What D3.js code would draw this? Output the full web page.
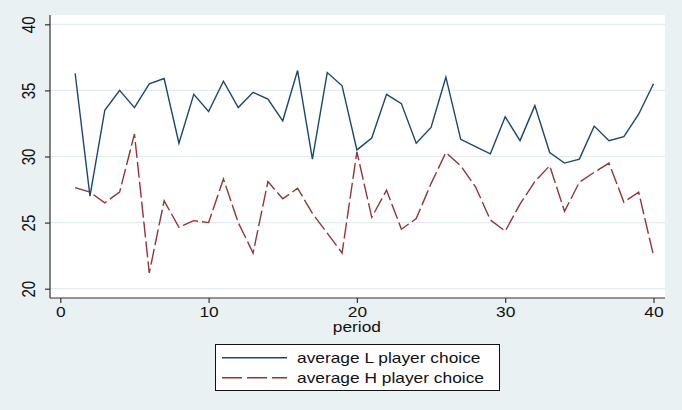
<!DOCTYPE html>
<html>
<head>
<meta charset="utf-8">
<script src="https://cdn.jsdelivr.net/npm/d3@7"></script>
<style>
  html, body { margin: 0; padding: 0; background: #eaf1f3; }
  svg { display: block; }
  text { font-family: "Liberation Sans", Arial, sans-serif; fill: #111; font-size: 14px; }
</style>
</head>
<body>
<svg id="chart" width="682" height="410"></svg>
<script>
// Periods 1..40
const periods = d3.range(1, 41);

// Average choice of L players per period
const avgL = [36.3, 27.0, 33.5, 35.0, 33.7, 35.5, 35.9, 31.0, 34.7, 33.4,
              35.7, 33.7, 34.85, 34.35, 32.7, 36.5, 29.8, 36.35, 35.35, 30.5,
              31.4, 34.7, 34.0, 31.0, 32.2, 36.0, 31.3, 30.75, 30.2, 33.0,
              31.2, 33.85, 30.3, 29.5, 29.8, 32.3, 31.2, 31.5, 33.2, 35.5];

// Average choice of H players per period
const avgH = [27.65, 27.3, 26.5, 27.3, 31.7, 21.2, 26.65, 24.65, 25.15, 25.0,
              28.3, 25.0, 22.7, 28.1, 26.8, 27.6, 25.7, 24.2, 22.7, 30.35,
              25.4, 27.45, 24.5, 25.3, 27.95, 30.3, 29.3, 27.7, 25.2, 24.35,
              26.4, 28.1, 29.3, 25.85, 28.05, 28.8, 29.5, 26.55, 27.3, 22.5];

const xTicks = [0, 10, 20, 30, 40];
const yTicks = [20, 25, 30, 35, 40];
const seriesNames = ["average L player choice", "average H player choice"];
const seriesColors = ["#1a476f", "#90353b"];
const dashPattern = "16,4";
const legendDash = "20,5";

// Text is drawn in a wide face: glyphs stretched horizontally
const stretch = 1.24;

const svg = d3.select("#chart");
const plot = { left: 50, right: 665, top: 15, bottom: 298 };

const x = d3.scaleLinear().domain([0, 40]).range([60.3, 653.5]);
const y = d3.scaleLinear().domain([20, 40]).range([288.7, 24.3]);

// Plot region
svg.append("rect")
  .attr("x", plot.left).attr("y", plot.top)
  .attr("width", plot.right - plot.left).attr("height", plot.bottom - plot.top)
  .attr("fill", "#ffffff");

// Horizontal grid lines
svg.append("g").selectAll("line").data(yTicks).join("line")
  .attr("x1", plot.left).attr("x2", plot.right)
  .attr("y1", d => y(d)).attr("y2", d => y(d))
  .attr("stroke", "#e2ecef").attr("stroke-width", 1.2);

// Y axis
const yAxis = svg.append("g")
  .attr("transform", `translate(${plot.left},0)`)
  .call(d3.axisLeft(y).tickValues(yTicks).tickSize(5));
yAxis.select(".domain").attr("d", `M0,${plot.top}V${plot.bottom}`)
  .attr("stroke", "#333").attr("stroke-width", 1.2);
yAxis.selectAll(".tick line").attr("stroke", "#333").attr("stroke-width", 1.2);
yAxis.selectAll(".tick text")
  .attr("x", 0).attr("y", 0).attr("dy", 0)
  .attr("transform", `translate(-15,0) scale(${stretch},1) rotate(-90)`)
  .attr("text-anchor", "middle")
  .style("font-size", "15px")
  .style("font-family", "'Liberation Sans', Arial, sans-serif")
  .attr("fill", "#111");

// X axis
const xAxis = svg.append("g")
  .attr("transform", `translate(0,${plot.bottom})`)
  .call(d3.axisBottom(x).tickValues(xTicks).tickSize(5).tickPadding(4));
xAxis.select(".domain").attr("d", `M${plot.left},0H${plot.right}`)
  .attr("stroke", "#333").attr("stroke-width", 1.2);
xAxis.selectAll(".tick line").attr("stroke", "#333").attr("stroke-width", 1.2);
xAxis.selectAll(".tick text")
  .attr("transform", `scale(${stretch},1)`)
  .style("font-size", "14px")
  .style("font-family", "'Liberation Sans', Arial, sans-serif")
  .attr("fill", "#111");

// Axis title
svg.append("text")
  .attr("transform", `translate(${x(20)},332.3) scale(${stretch},1)`)
  .attr("text-anchor", "middle")
  .text("period");

// Series lines
const line = d3.line().x((d, i) => x(periods[i])).y(d => y(d));

svg.append("path").datum(avgL)
  .attr("d", line).attr("fill", "none")
  .attr("stroke", seriesColors[0]).attr("stroke-width", 1.4)
  .attr("stroke-linejoin", "miter");

svg.append("path").datum(avgH)
  .attr("d", line).attr("fill", "none")
  .attr("stroke", seriesColors[1]).attr("stroke-width", 1.4)
  .attr("stroke-dasharray", dashPattern);

// Legend
const legend = svg.append("g");
legend.append("rect")
  .attr("x", 215.5).attr("y", 344.5).attr("width", 284).attr("height", 46)
  .attr("fill", "#ffffff").attr("stroke", "#111").attr("stroke-width", 1);

seriesNames.forEach((name, i) => {
  const ly = 357.7 + i * 20;
  legend.append("line")
    .attr("x1", 222).attr("x2", 287).attr("y1", ly).attr("y2", ly)
    .attr("stroke", seriesColors[i]).attr("stroke-width", 1.4)
    .attr("stroke-dasharray", i === 1 ? legendDash : null);
  legend.append("text")
    .attr("transform", `translate(297,${ly + 5.5}) scale(${stretch},1)`)
    .text(name);
});
</script>
</body>
</html>
